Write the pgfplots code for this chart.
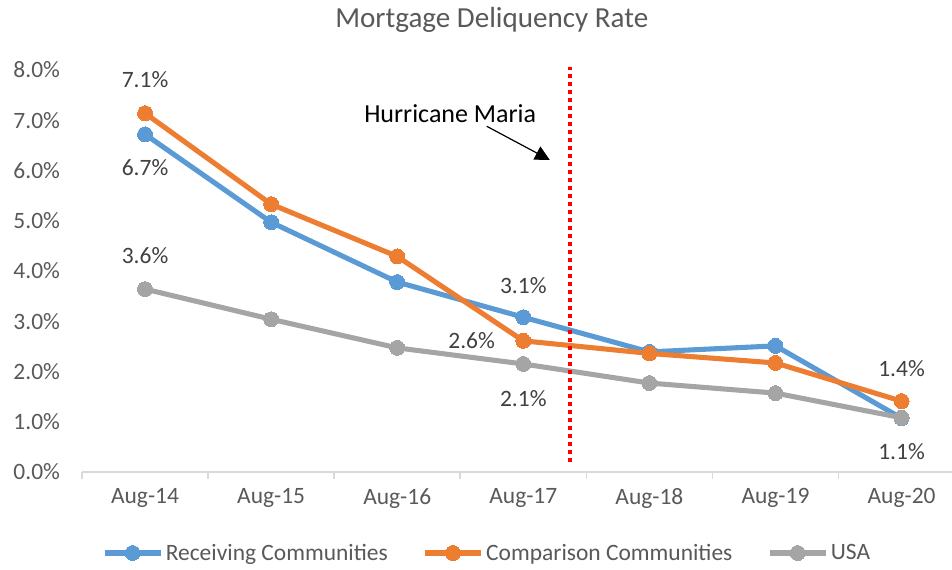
\documentclass[border=0pt]{standalone}
\usepackage{fontspec}
\setmainfont{Carlito}
\usepackage{pgfplots}
\pgfplotsset{compat=1.18}
\usetikzlibrary{arrows.meta}
\definecolor{recv}{HTML}{5B9BD5}
\definecolor{comp}{HTML}{ED7D31}
\definecolor{usa}{HTML}{A5A5A5}
\definecolor{txt}{HTML}{595959}
\definecolor{lbl}{HTML}{404040}
\definecolor{axln}{HTML}{D9D9D9}

\begin{document}
\begin{tikzpicture}
% page = 952x570 px at 0.75pt/px, axis box corner at px (82,472)
\useasboundingbox (-61.5pt,-73.5pt) rectangle (652.5pt,354pt);
\begin{axis}[
    at={(0,0)}, anchor=south west,
    scale only axis,
    width=652.5pt, height=301.5pt,
    xmin=-0.5, xmax=6.4,
    ymin=0, ymax=8,
    clip=false,
    axis lines*=left,
    x axis line style={draw=axln, line width=1.2pt},
    y axis line style={draw=none},
    xtick={0,...,6},
    xticklabels={Aug-14,Aug-15,Aug-16,Aug-17,Aug-18,Aug-19,Aug-20},
    major x tick style={draw=none},
    extra x ticks={-0.5,0.5,1.5,2.5,3.5,4.5,5.5},
    extra x tick labels={},
    extra x tick style={tick align=outside, major tick length=5pt,
        major x tick style={draw=axln, line width=1.2pt}},
    ytick={0,...,8},
    yticklabels={0.0\%,1.0\%,2.0\%,3.0\%,4.0\%,5.0\%,6.0\%,7.0\%,8.0\%},
    ytick style={draw=none},
    tick label style={font=\fontsize{17.6}{20}\selectfont, text=txt},
    xticklabel style={yshift=-9pt},
    yticklabel style={xshift=-13pt},
    legend columns=3,
    legend cell align=left,
    legend style={at={(rel axis cs:0.466,-0.2015)}, anchor=center, draw=none,
        font=\fontsize{17.6}{20}\selectfont, text=txt,
        /tikz/every even column/.append style={column sep=24pt}},
    legend image code/.code={
        \draw[#1, mark repeat=2, mark phase=2]
            plot coordinates {(0pt,0pt) (21pt,0pt) (42pt,0pt)};},
]
\addplot[color=recv, line width=3.8pt, mark=*, mark size=5.6pt, mark options={solid, line width=0pt}] coordinates {
(0,6.72) (1,4.97) (2,3.78) (3,3.08) (4,2.39) (5,2.51) (6,1.07)};
\addlegendentry{Receiving Communities}
\addplot[color=comp, line width=3.8pt, mark=*, mark size=5.6pt, mark options={solid, line width=0pt}] coordinates {
(0,7.14) (1,5.33) (2,4.29) (3,2.61) (4,2.36) (5,2.17) (6,1.41)};
\addlegendentry{Comparison Communities}
\addplot[color=usa, line width=3.8pt, mark=*, mark size=5.6pt, mark options={solid, line width=0pt}] coordinates {
(0,3.64) (1,3.04) (2,2.47) (3,2.15) (4,1.77) (5,1.57) (6,1.08)};
\addlegendentry{USA}

% data labels
\begin{scope}[every node/.style={font=\fontsize{17.6}{20}\selectfont, text=lbl}]
\node at (axis cs:0,7.80) {7.1\%};
\node at (axis cs:0,6.05) {6.7\%};
\node at (axis cs:0,4.30) {3.6\%};
\node at (axis cs:3,3.70) {3.1\%};
\node at (axis cs:2.59,2.61) {2.6\%};
\node at (axis cs:3,1.47) {2.1\%};
\node at (axis cs:6,2.05) {1.4\%};
\node at (axis cs:6,0.40) {1.1\%};
\end{scope}

% hurricane marker
\draw[red, line width=3pt, dash pattern=on 3pt off 3pt]
    (axis cs:3.373,0.2) -- (axis cs:3.373,8.05);
\node[font=\fontsize{19.5}{22}\selectfont, text=black] at (axis cs:2.42,7.14) {Hurricane Maria};
\draw[black, line width=0.9pt, -{Triangle[length=11pt,width=11pt]}]
    (axis cs:2.71,6.88) -- (axis cs:3.21,6.21);

\node[font=\fontsize{21.8}{24}\selectfont, text=txt] at (rel axis cs:0.471,1.124) {Mortgage Deliquency Rate};
\end{axis}
\end{tikzpicture}
\end{document}
